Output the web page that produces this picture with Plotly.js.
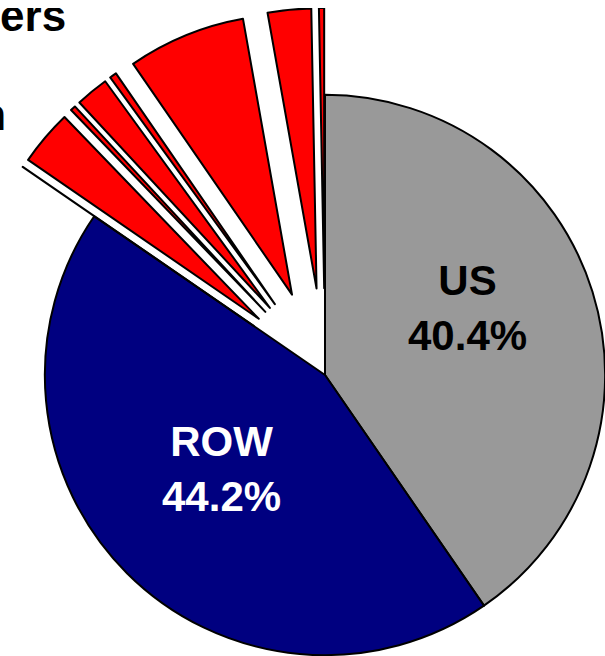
<!DOCTYPE html>
<html>
<head>
<meta charset="utf-8">
<script src="https://cdn.plot.ly/plotly-3.0.1.min.js"></script>
<style>
  html, body { margin: 0; padding: 0; overflow: hidden; width: 605px; height: 656px; background: #fff; }
  #chart { position: absolute; left: -42px; top: 8px; width: 734px; height: 734px; }
</style>
</head>
<body>
<div id="chart"></div>
<script>
// shares in percent, clockwise from 12 o'clock
var labels = ['US', 'ROW', 'r0', 'r1', 'r2', 'r3', 'r4', 'r5', 'r6', 'r7'];
var shares = [40.4, 44.2, 0.01, 3.2, 0.3, 1.9, 0.4, 6.8, 2.5, 0.3];

var sliceColors = labels.map((l, i) => i === 0 ? '#999999' : (i === 1 ? '#000080' : '#ff0000'));
var pulls = labels.map((l, i) => i < 2 ? 0 : 0.31);

var font = 'Arial, Liberation Sans, sans-serif';
var size = 734;

var trace = {
    type: 'pie',
    labels: labels,
    values: shares,
    sort: false,
    direction: 'clockwise',
    rotation: 0,
    pull: pulls,
    textinfo: 'none',
    marker: { colors: sliceColors, line: { color: '#000000', width: 2 } },
    hoverinfo: 'none',
    showlegend: false
};

function sliceLabel(i, x, y, color) {
    return {
        text: '<b>' + labels[i] + '<br>' + shares[i].toFixed(1) + '%</b>',
        xref: 'paper', yref: 'paper', x: x, y: y,
        xanchor: 'center', yanchor: 'middle', showarrow: false,
        font: { family: font, size: 42, color: color }
    };
}

var layout = {
    width: size,
    height: size,
    margin: { l: 0, r: 0, t: 0, b: 0 },
    paper_bgcolor: '#ffffff',
    showlegend: false,
    annotations: [
        sliceLabel(0, 509 / size, 1 - 300 / size, '#000000'),
        sliceLabel(1, 263 / size, 1 - 461 / size, '#ffffff'),
        { text: '<b>Members</b>', xref: 'paper', yref: 'paper', x: 110 / size, y: 1 + 19 / size,
          xanchor: 'right', yanchor: 'top', showarrow: false,
          font: { family: font, size: 44, color: '#000000' } },
        { text: '<b>Japan</b>', xref: 'paper', yref: 'paper', x: 50 / size, y: 1 - 80 / size,
          xanchor: 'right', yanchor: 'top', showarrow: false,
          font: { family: font, size: 44, color: '#000000' } }
    ]
};

Plotly.newPlot('chart', [trace], layout, { staticPlot: true });
</script>
</body>
</html>
